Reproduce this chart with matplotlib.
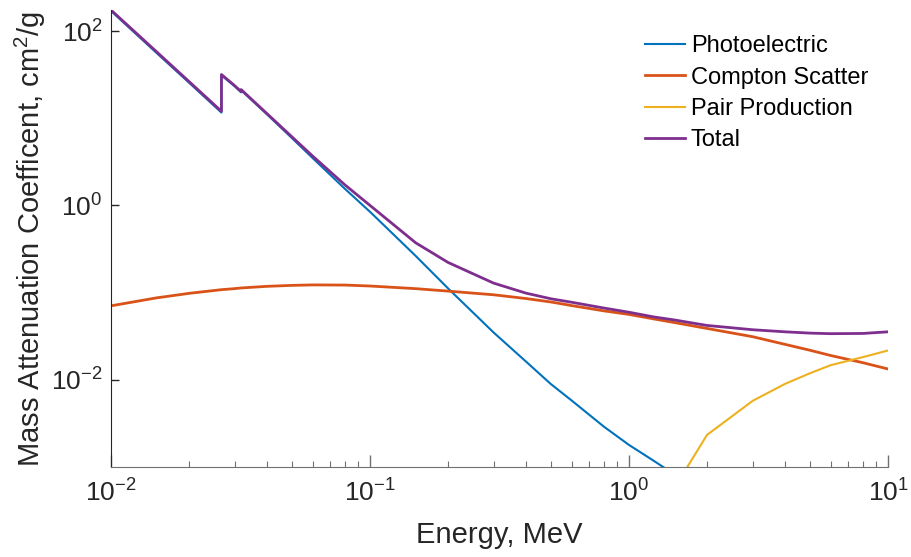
import numpy as np
import matplotlib
matplotlib.use('Agg')
import matplotlib.pyplot as plt
from matplotlib.ticker import LogLocator, NullLocator

plt.rcParams['font.family'] = ['Liberation Sans', 'DejaVu Sans']
plt.rcParams['mathtext.fontset'] = 'custom'
plt.rcParams['mathtext.rm'] = 'Liberation Sans'
plt.rcParams['axes.unicode_minus'] = False

# photon energy grid, MeV (edges listed twice)
energy = [0.01, 0.015, 0.02, 0.0267, 0.0267, 0.03, 0.0318, 0.0318, 0.04, 0.05,
          0.06, 0.08, 0.1, 0.15, 0.2, 0.3, 0.4, 0.5, 0.6, 0.8,
          1.0, 1.25, 1.5, 2.0, 3.0, 4.0, 5.0, 6.0, 8.0, 10.0]

# mass attenuation coefficients, cm^2/g
photoelectric = [170, 56, 25.6, 11.6, 31.0, 23.3, 19.8, 20.9, 11.1, 5.9,
                 3.5, 1.55, 0.845, 0.264, 0.112, 0.0349, 0.0162, 0.0089, 0.0058, 0.0029,
                 0.00179, 0.00117, 0.00082, 0.00048, 0.00027, 0.00019, 0.00015, 0.00012, 0.000088, 0.00007]
compton = [0.0705, 0.087, 0.098, 0.108, 0.108, 0.111, 0.113, 0.113, 0.118, 0.121,
           0.1225, 0.122, 0.119, 0.111, 0.104, 0.0944, 0.0855, 0.078, 0.071, 0.0617,
           0.0562, 0.0498, 0.0453, 0.0388, 0.0312, 0.0255, 0.0218, 0.0190, 0.0157, 0.0133]
pair = [np.nan] * 20 + [np.nan, 0.00012, 0.00058, 0.00233, 0.00573, 0.00897, 0.0119, 0.0147, 0.0182, 0.0217]
total = [174, 57.8, 26.4, 12.0, 31.7, 23.7, 20.2, 21.3, 11.3, 6.1,
         3.69, 1.72, 1.0, 0.373, 0.222, 0.1285, 0.0986, 0.0849, 0.0775, 0.0665,
         0.0595, 0.0525, 0.0485, 0.0420, 0.0375, 0.0355, 0.0343, 0.0338, 0.0340, 0.0355]

fig = plt.figure(figsize=(9.11, 5.57), dpi=100)
ax = fig.add_axes([0.1218, 0.1616, 0.853, 0.8204])

ax.loglog(energy, photoelectric, color='#0072BD', lw=1.5, label='Photoelectric')
ax.loglog(energy, compton, color='#D95319', lw=2.0, label='Compton Scatter')
ax.loglog(energy, pair, color='#EDB120', lw=1.5, label='Pair Production')
ax.loglog(energy, total, color='#7E2F8E', lw=2.0, label='Total')

ax.set_xlim(1e-2, 1e1)
ax.set_ylim(1e-3, 174)

ax.spines['top'].set_visible(False)
ax.spines['right'].set_visible(False)
ax.spines['left'].set_color('#262626')
ax.spines['bottom'].set_color('#707070')

ax.xaxis.set_major_locator(LogLocator(base=10, numticks=10))
ax.xaxis.set_minor_locator(LogLocator(base=10, subs=np.arange(2, 10), numticks=20))
ax.yaxis.set_major_locator(LogLocator(base=100, numticks=10))
ax.yaxis.set_minor_locator(NullLocator())

ax.tick_params(axis='x', which='major', direction='in', length=8.5, width=1,
               color='#707070', labelsize=19, labelcolor='#262626', pad=9)
ax.tick_params(axis='x', which='minor', direction='in', length=4.5, width=0.8, color='#707070')
ax.tick_params(axis='y', which='major', direction='in', length=5.5, width=1,
               color='#262626', labelsize=19, labelcolor='#262626', pad=6)

ax.set_xlabel('Energy, MeV', fontsize=21, color='#262626', labelpad=10)
ax.set_ylabel('Mass Attenuation Coefficent, cm$^2$/g', fontsize=21, color='#262626', labelpad=2)

ax.legend(loc='upper left', bbox_to_anchor=(0.687, 0.945), frameon=False, fontsize=17,
          handlelength=1.7, handletextpad=0.25, labelspacing=0.4, borderpad=0, borderaxespad=0)

fig.savefig('out.png', dpi=100)
